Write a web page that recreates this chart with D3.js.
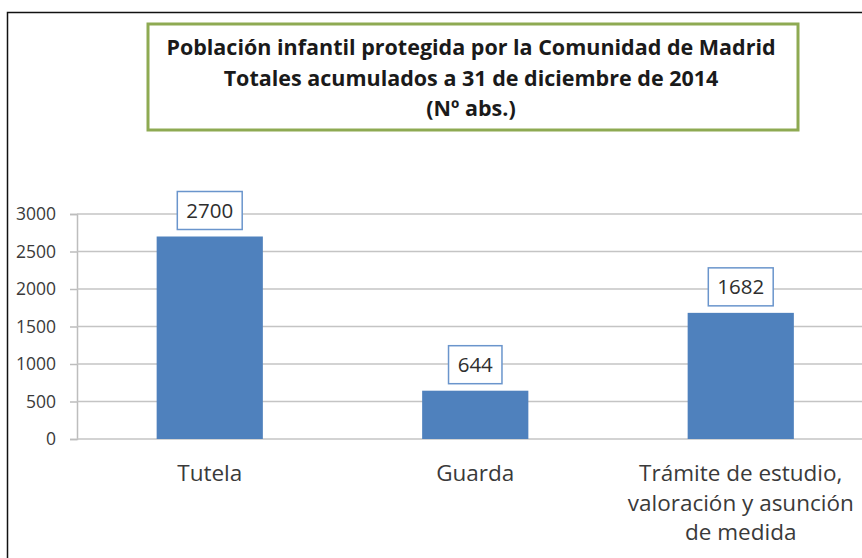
<!DOCTYPE html>
<html>
<head>
<meta charset="utf-8">
<script src="https://cdn.jsdelivr.net/npm/d3@7"></script>
<style>
  body { margin: 0; background: #fff; }
  svg { display: block; font-family: "Open Sans", sans-serif; }
</style>
</head>
<body>
<svg class="chart" width="862" height="558"></svg>
<script>
/* datos */
const categories = ["Tutela", "Guarda", "Trámite de estudio,\nvaloración y asunción\nde medida"]
const values = [2700, 644, 1682]
const yTicks = [0, 500, 1000, 1500, 2000, 2500, 3000]
const titleLines = [
    "Población infantil protegida por la Comunidad de Madrid",
    "Totales acumulados a 31 de diciembre de 2014",
    "(Nº abs.)"
]

const svg = d3.select("svg.chart")
const margin = {left: 77, top: 214, bottom: 439}

const x = d3.scaleBand()
    .domain(categories)
    .range([margin.left, margin.left + 3 * 265.5])
    .paddingInner(0.6)
    .paddingOuter(0.3)

const y = d3.scaleLinear()
    .domain([0, 3000])
    .range([margin.bottom, margin.top])

/* marco exterior */
svg.append("path")
    .attr("d", "M7.5,558V12.5H862")
    .attr("fill", "none")
    .attr("stroke", "#111")
    .attr("stroke-width", 1.5)

/* caja del título */
svg.append("rect")
    .attr("x", 148).attr("y", 24)
    .attr("width", 650).attr("height", 106)
    .attr("fill", "#fff")
    .attr("stroke", "#8eaa52")
    .attr("stroke-width", 3)

svg.append("g")
    .selectAll("text")
    .data(titleLines)
    .enter()
    .append("text")
    .attr("x", 471)
    .attr("y", (d, i) => 55 + i * 30.5)
    .attr("text-anchor", "middle")
    .attr("font-size", 21.5)
    .attr("font-weight", "bold")
    .attr("fill", "#1a1a1a")
    .text(d => d)

/* rejilla y eje y */
const yAxis = svg.append("g")
    .attr("transform", "translate(" + margin.left + ",0)")
    .call(d3.axisLeft(y).tickValues(yTicks).tickFormat(d3.format("d")).tickSize(7).tickPadding(14))

yAxis.select(".domain").attr("stroke", "#bdbdbd").attr("stroke-width", 1.5)
yAxis.selectAll(".tick line").attr("stroke", "#bdbdbd").attr("stroke-width", 1.5)
yAxis.selectAll(".tick text")
    .attr("font-size", 17.5)
    .attr("font-family", "Open Sans, sans-serif")
    .attr("fill", "#3a3a3a")

svg.append("g")
    .selectAll("line")
    .data(yTicks)
    .enter()
    .append("line")
    .attr("x1", margin.left)
    .attr("x2", 862)
    .attr("y1", d => y(d))
    .attr("y2", d => y(d))
    .attr("stroke", "#c4c4c4")
    .attr("stroke-width", 1.5)

/* barras */
svg.append("g")
    .selectAll("rect")
    .data(values)
    .enter()
    .append("rect")
    .attr("x", (d, i) => x(categories[i]))
    .attr("y", d => y(d))
    .attr("width", x.bandwidth())
    .attr("height", d => y(0) - y(d))
    .attr("fill", "#4f81bd")

/* etiquetas de valor */
const lab = svg.append("g")
    .selectAll("g")
    .data(values)
    .enter()
    .append("g")
    .attr("transform", (d, i) => "translate(" + (x(categories[i]) + x.bandwidth() / 2) + "," + (y(d) - 26) + ")")

const labText = lab.append("text")
    .attr("text-anchor", "middle")
    .attr("dy", "0.36em")
    .attr("font-size", 20.5)
    .attr("fill", "#2e2e2e")
    .text(d => d)

lab.insert("rect", "text")
    .each(function () {
        const w = this.parentNode.querySelector("text").getBBox().width + 18
        d3.select(this)
            .attr("x", -w / 2)
            .attr("width", w)
    })
    .attr("y", -19)
    .attr("height", 38)
    .attr("fill", "#fff")
    .attr("stroke", "#6a95cc")
    .attr("stroke-width", 1.5)

/* categorías */
const cat = svg.append("g")
    .selectAll("text")
    .data(categories)
    .enter()
    .append("text")
    .attr("x", d => x(d) + x.bandwidth() / 2)
    .attr("y", 481)
    .attr("text-anchor", "middle")
    .attr("font-size", 22.5)
    .attr("fill", "#3a3a3a")

cat.selectAll("tspan")
    .data(d => d.split("\n"))
    .enter()
    .append("tspan")
    .attr("x", function () { return d3.select(this.parentNode).attr("x") })
    .attr("dy", (d, i) => i === 0 ? 0 : 29.5)
    .text(d => d)
</script>
</body>
</html>
